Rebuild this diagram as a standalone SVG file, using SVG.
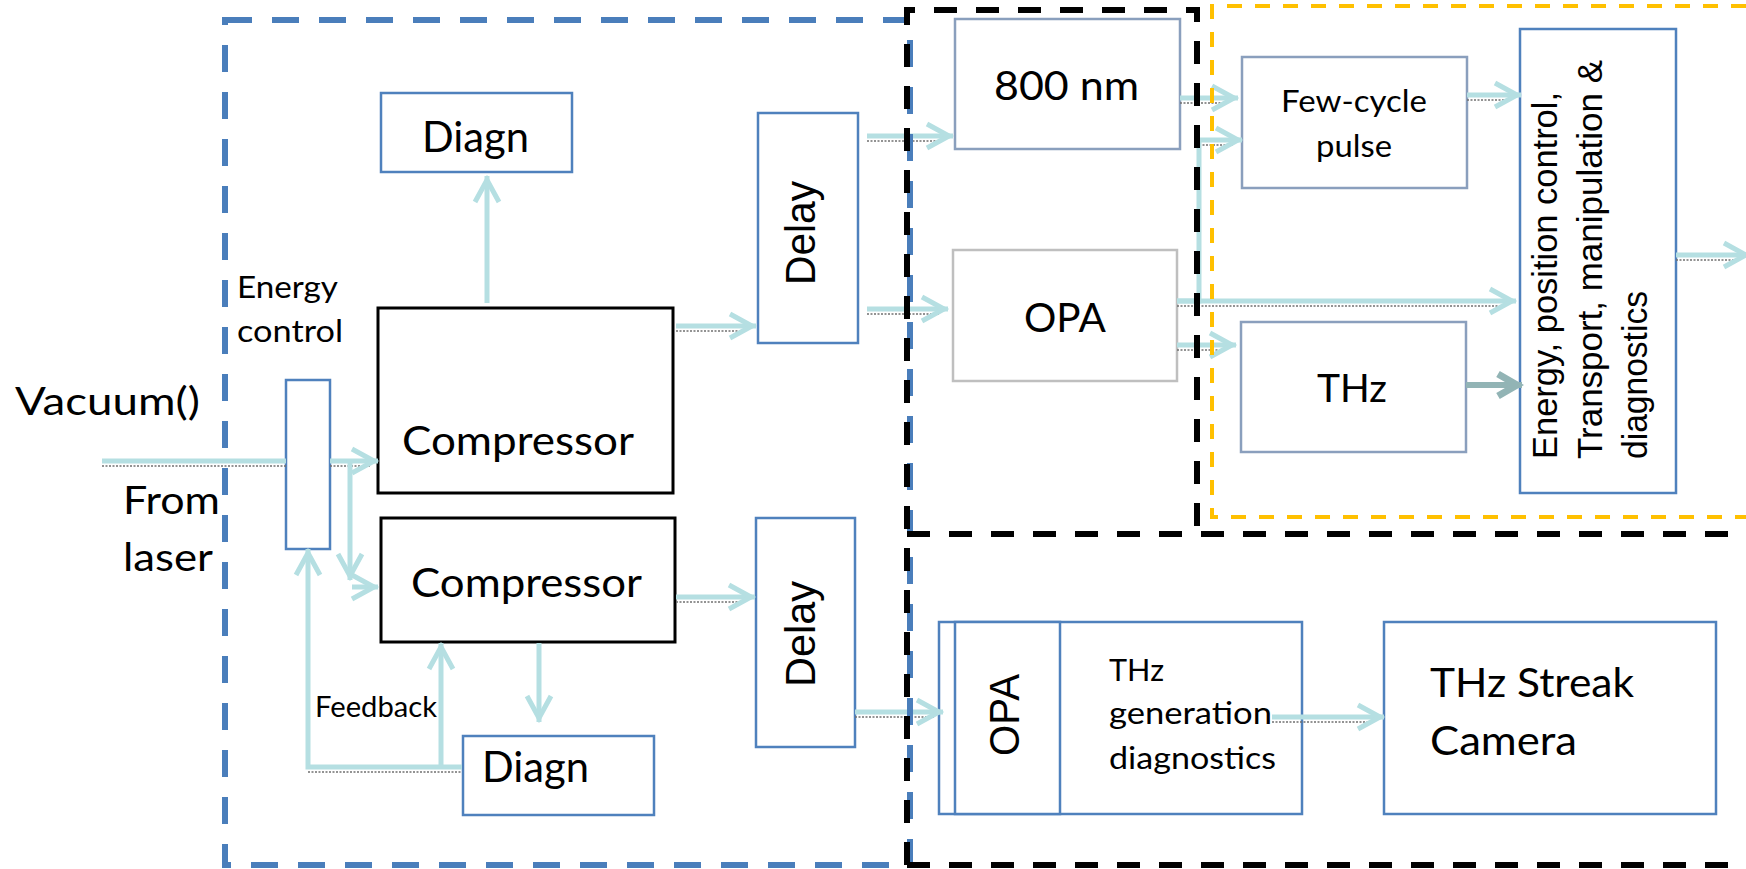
<svg xmlns="http://www.w3.org/2000/svg" width="1746" height="869" viewBox="0 0 1746 869">
<style>
.bg{fill:#ffffff}
.bx{fill:#ffffff;stroke:#4f81bd;stroke-width:2.5}
.bk{fill:#ffffff;stroke:#000000;stroke-width:3}
.sl{fill:#ffffff;stroke:#8a9fbd;stroke-width:2.5}
.gy{fill:#ffffff;stroke:#bfbfbf;stroke-width:2.5}
.t{font-family:Lato,"Liberation Sans",sans-serif;fill:#000000}
.a{font-family:"Liberation Sans",Arial,sans-serif;fill:#000000}
.c{fill:none;stroke:#b5dfe2;stroke-width:5;marker-end:url(#ah)}
.cn{fill:none;stroke:#b5dfe2;stroke-width:5}
.cd{fill:none;stroke:#92b4b5;stroke-width:6;marker-end:url(#ah2)}
.sh{fill:none;stroke:#707070;stroke-width:1.5;stroke-dasharray:2 1.5}
.rb{fill:none;stroke:#4a7ebb;stroke-width:6;stroke-dasharray:27 20}
.rk{fill:none;stroke:#000000;stroke-width:6;stroke-dasharray:23 19}
.ry{fill:none;stroke:#ffc000;stroke-width:4;stroke-dasharray:15 13}
</style>
<defs>
<marker id="ah" viewBox="-30 -16 34 32" refX="0" refY="0" markerWidth="34" markerHeight="32" markerUnits="userSpaceOnUse" orient="auto">
<path d="M-26,-12 L-4,0 L-26,12" fill="none" stroke="#b5dfe2" stroke-width="5"/>
</marker>
<marker id="ah2" viewBox="-30 -16 34 32" refX="0" refY="0" markerWidth="34" markerHeight="32" markerUnits="userSpaceOnUse" orient="auto">
<path d="M-24,-11 L-5,0 L-24,11" fill="none" stroke="#92b4b5" stroke-width="7"/>
</marker>
</defs>
<rect class="bg" x="0" y="0" width="1746" height="869"/>

<g id="nodes">
<g id="energy-control-box"><rect class="bx" x="286" y="380" width="44" height="169" stroke-width="2"/></g>
<g id="diagn-top"><rect class="bx" x="381" y="93" width="191" height="79"/><text class="t" x="422" y="152" font-size="42" textLength="107" lengthAdjust="spacingAndGlyphs">Diagn</text></g>
<g id="compressor-1"><rect class="bk" x="378" y="308" width="295" height="185"/><text class="t" x="402" y="455" font-size="40" textLength="232" lengthAdjust="spacingAndGlyphs">Compressor</text></g>
<g id="compressor-2"><rect class="bk" x="381" y="518" width="294" height="124"/><text class="t" x="411" y="597" font-size="40" textLength="231" lengthAdjust="spacingAndGlyphs">Compressor</text></g>
<g id="diagn-bottom"><rect class="bx" x="463" y="736" width="191" height="79"/><text class="t" x="482" y="782" font-size="42" textLength="107" lengthAdjust="spacingAndGlyphs">Diagn</text></g>
<g id="delay-1"><rect class="bx" x="758" y="113" width="100" height="230"/><text class="a" transform="translate(815,233) rotate(-90)" text-anchor="middle" font-size="43" textLength="104" lengthAdjust="spacingAndGlyphs">Delay</text></g>
<g id="delay-2"><rect class="bx" x="756" y="518" width="99" height="229"/><text class="a" transform="translate(815,634) rotate(-90)" text-anchor="middle" font-size="43" textLength="106" lengthAdjust="spacingAndGlyphs">Delay</text></g>
<g id="n800"><rect class="sl" x="955" y="19" width="225" height="130"/><text class="t" x="994" y="100" font-size="41" textLength="145" lengthAdjust="spacingAndGlyphs">800 nm</text></g>
<g id="opa-upper"><rect class="gy" x="953" y="250" width="224" height="131"/><text class="t" x="1024" y="332" font-size="41" textLength="82" lengthAdjust="spacingAndGlyphs">OPA</text></g>
<g id="few-cycle"><rect class="sl" x="1242" y="57" width="225" height="131"/><text class="t" font-size="31"><tspan x="1281" y="112" textLength="146" lengthAdjust="spacingAndGlyphs">Few-cycle</tspan><tspan x="1316" y="157" textLength="76" lengthAdjust="spacingAndGlyphs">pulse</tspan></text></g>
<g id="thz"><rect class="sl" x="1241" y="322" width="225" height="130"/><text class="t" x="1317" y="402" font-size="39" textLength="70" lengthAdjust="spacingAndGlyphs">THz</text></g>
<g id="energy-box"><rect class="bx" x="1520" y="29" width="156" height="464" stroke-width="2"/><text class="a" font-size="35" transform="translate(1557,459) rotate(-90)"><tspan x="0" y="0" textLength="367" lengthAdjust="spacingAndGlyphs">Energy, position control,</tspan><tspan x="0" y="45" textLength="399" lengthAdjust="spacingAndGlyphs">Transport, manipulation &amp;</tspan><tspan x="0" y="90" textLength="168" lengthAdjust="spacingAndGlyphs">diagnostics</tspan></text></g>
<g id="opa-thz-gen"><rect class="bx" x="939" y="622" width="363" height="192" stroke-width="2"/><rect class="bx" x="955" y="622" width="105" height="192" stroke-width="2"/><text class="a" transform="translate(1019,715) rotate(-90)" text-anchor="middle" font-size="42" textLength="82" lengthAdjust="spacingAndGlyphs">OPA</text><text class="t" font-size="31"><tspan x="1109" y="681" textLength="55" lengthAdjust="spacingAndGlyphs">THz</tspan><tspan x="1109" y="724" textLength="163" lengthAdjust="spacingAndGlyphs">generation</tspan><tspan x="1109" y="769" textLength="167" lengthAdjust="spacingAndGlyphs">diagnostics</tspan></text></g>
<g id="streak-camera"><rect class="bx" x="1384" y="622" width="332" height="192"/><text class="t" font-size="41"><tspan x="1430" y="697" textLength="204" lengthAdjust="spacingAndGlyphs">THz Streak</tspan><tspan x="1430" y="755" textLength="147" lengthAdjust="spacingAndGlyphs">Camera</tspan></text></g>
</g>

<g id="connectors">
<path class="sh" d="M102,466 H286 M330,466 H370 M676,331 H746 M867,141 H944 M867,314 H939 M1180,103 H1229 M1199,145 H1233 M1177,306 H1506 M1177,350 H1226 M1467,100 H1512 M1676,260 H1738 M676,602 H746 M855,717 H934 M1272,722 H1374 M308,772 H462"/>
<path class="cn" d="M102,461 H286"/>
<path class="c" d="M330,461 H378"/>
<path class="c" d="M350,463 V580"/>
<path class="c" d="M352,587 H378"/>
<path class="c" d="M487,303 V176"/>
<path class="c" d="M676,326 H756"/>
<path class="c" d="M867,136 H953"/>
<path class="c" d="M867,309 H948"/>
<path class="c" d="M1180,98 H1238"/>
<path class="c" d="M1177,301 H1199 V140 H1242"/>
<path class="c" d="M1177,301 H1516"/>
<path class="c" d="M1177,345 H1236"/>
<path class="c" d="M1467,95 H1521"/>
<path class="cd" d="M1466,385 H1522"/>
<path class="c" d="M1676,255 H1750"/>
<path class="c" d="M676,597 H755"/>
<path class="c" d="M539,643 V722"/>
<path class="c" d="M462,767 H308 V549"/>
<path class="c" d="M441,767 V643"/>
<path class="c" d="M855,712 H943"/>
<path class="c" d="M1272,717 H1384"/>
</g>

<g id="regions">
<rect class="rb" x="225" y="20" width="685" height="845"/>
<path class="rk" d="M907,865 V10 H1197 V534"/>
<path class="rk" d="M907,534 H1746"/>
<path class="rk" d="M907,865 H1746"/>
<path class="ry" d="M1746,6 H1212 V517 H1746"/>
</g>

<g id="labels">
<text class="t" x="15" y="415" font-size="39" textLength="185" lengthAdjust="spacingAndGlyphs">Vacuum()</text>
<text class="t" font-size="39"><tspan x="123" y="514" textLength="97" lengthAdjust="spacingAndGlyphs">From</tspan><tspan x="123" y="571" textLength="90" lengthAdjust="spacingAndGlyphs">laser</tspan></text>
<text class="t" font-size="30"><tspan x="237" y="298" textLength="101" lengthAdjust="spacingAndGlyphs">Energy</tspan><tspan x="237" y="342" textLength="106" lengthAdjust="spacingAndGlyphs">control</tspan></text>
<text class="t" x="315" y="717" font-size="28" textLength="122" lengthAdjust="spacingAndGlyphs">Feedback</text>
</g>
</svg>
